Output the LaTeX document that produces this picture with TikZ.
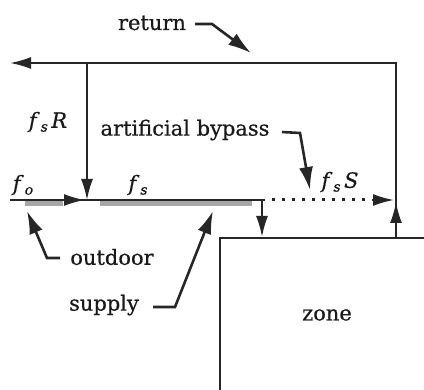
\documentclass[tikz,border=0pt]{standalone}
\usepackage{fontspec}
\setmainfont{DejaVu Serif}[FakeBold=0.6]
\usetikzlibrary{arrows.meta}
\newcommand\fsub[1]{\textit{f}\kern1pt\raisebox{-0.35ex}{\fontsize{14}{15}\selectfont\textit{#1}}}
\begin{document}
\begin{tikzpicture}[x=1pt,y=-1pt,
  flow/.style={line width=2pt, draw=black!85},
  tip/.style={-{Latex[length=21pt,width=12pt]}},
  lead/.style={line width=2.6pt, draw=black!85, -{Latex[length=23pt,width=14pt]}},
  lbl/.style={font=\fontsize{21}{24}\selectfont, inner sep=0pt, text=black!90},
  bar/.style={line width=5pt, draw=black!35},
  dots/.style={line width=3pt, draw=black!85, dash pattern=on 3pt off 7pt},
  zonebox/.style={draw=black!85, line width=2.2pt, minimum width=214pt, minimum height=154pt, font=\fontsize{21}{24}\selectfont, text=black!90}]
\useasboundingbox (0,0) rectangle (424,390);
\clip (0,0) rectangle (424,390);
% labels
\node[lbl] (ret) at (152,23) {return};
\node[lbl] (fsR) at (48,122) {\fsub{s}\,\textit{R}};
\node[lbl] (byp) at (185,130) {artificial bypass};
\node[lbl] (fsS) at (340,182) {\fsub{s}\,\textit{S}};
\node[lbl] (fo) at (23,185) {\fsub{o}};
\node[lbl] (fs) at (138,185) {\fsub{s}};
\node[lbl] (out) at (112,257) {outdoor};
\node[lbl] (sup) at (104,305) {supply};
\node[zonebox] (zone) at (327,315) {zone};
% junction coordinates
\coordinate (L) at (10,63);
\coordinate (RT) at (396,63);
\coordinate (J1) at (87,63);
\coordinate (J2) at (87,200);
\coordinate (M0) at (10,200);
\coordinate (A1) at (85,200);
\coordinate (Mend) at (265,200);
\coordinate (D) at (262,200);
\coordinate (Dz) at (262,237);
\coordinate (dotS) at (272,200);
\coordinate (dotA) at (372,200);
\coordinate (dotE) at (394,200);
\coordinate (RB) at (396,238);
\coordinate (Up) at (396,202);
% gray bars
\draw[bar] (25,203.5) -- (63,203.5);
\draw[bar] (100,203.5) -- (252,203.5);
% flows
\draw[flow] (M0) -- (Mend);
\draw[flow,tip] (M0) -- (A1);
\draw[flow,tip] (RB) -- (RT) -- (L);
\draw[flow,tip] (RB) -- (Up);
\draw[flow,tip] (J1) -- (J2);
\draw[flow,tip] (D) -- (Dz);
\draw[dots] (dotS) -- (dotA);
\draw[flow,tip] (dotA) -- (dotE);
% leaders
\coordinate (r0) at (195,24); \coordinate (r1) at (212,24); \coordinate (r2) at (251,53);
\draw[lead] (r0) -- (r1) -- (r2);
\coordinate (b0) at (282,132); \coordinate (b1) at (300,133); \coordinate (b2) at (310,190);
\draw[lead] (b0) -- (b1) -- (b2);
\coordinate (o0) at (60,258); \coordinate (o1) at (47,258); \coordinate (o2) at (27,211);
\draw[lead] (o0) -- (o1) -- (o2);
\coordinate (s0) at (153,307); \coordinate (s1) at (175,307); \coordinate (s2) at (213,211);
\draw[lead] (s0) -- (s1) -- (s2);
\end{tikzpicture}
\end{document}
